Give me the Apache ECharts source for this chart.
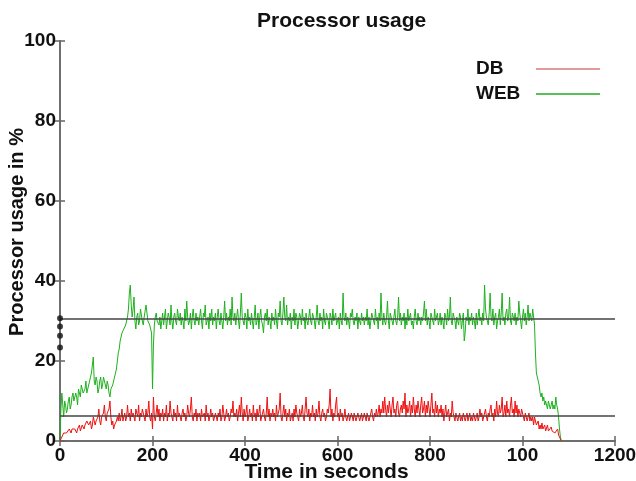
<!DOCTYPE html>
<html>
<head>
<meta charset="utf-8">
<script src="https://cdn.jsdelivr.net/npm/echarts@6/dist/echarts.min.js"></script>
<style>html,body{margin:0;padding:0;background:#fff}#c{width:636px;height:481px}</style>
</head>
<body>
<div id="c"></div>
<script>
// sampling step (seconds) of the recorded traces
const sampleStep = 2;
const xTickLabels = ['0', '200', '400', '600', '800', '100', '1200'];
const yTickLabels = ['0', '20', '40', '60', '80', '100'];

// WEB processor usage (%), one value per sample
const webValues = [
  0, 8, 12, 9, 6, 10, 9, 7, 8, 10, 11, 8, 9, 11, 12, 10, 10, 12, 11, 9,
  13, 12, 11, 14, 14, 12, 12, 13, 15, 12, 13, 14, 14, 16, 17, 19, 21, 15, 14, 16,
  15, 12, 13, 15, 16, 13, 14, 16, 15, 14, 13, 15, 14, 12, 11, 13, 13, 14, 15, 16,
  17, 18, 20, 22, 23, 25, 26, 27, 27, 28, 28, 29, 29, 31, 33, 37, 39, 34, 31, 33,
  36, 30, 28, 31, 32, 29, 30, 33, 33, 30, 29, 31, 31, 34, 34, 30, 30, 29, 28, 27,
  13, 24, 29, 31, 32, 30, 30, 29, 31, 28,
  30, 32, 29, 31, 33, 28, 30, 32, 31, 29, 34, 30, 28, 31, 32, 30, 29, 33, 31, 30,
  32, 29, 31, 30, 28, 33, 30, 35, 31, 29, 30, 32, 28, 31, 33, 30, 29, 32, 30, 31,
  29, 31, 33, 30, 28, 32, 31, 34, 29, 30, 31, 28, 32, 30, 33, 29, 31, 30, 32, 28,
  31, 33, 30, 29, 32, 30, 28, 31, 35, 30, 32, 29, 31, 30, 33, 29, 36, 31, 30, 32,
  29, 31, 33, 30, 28, 32, 37, 31, 30, 29, 32, 31, 28, 33, 30, 31, 29, 32, 30, 28,
  31, 34, 29, 30, 32, 28, 31, 33, 30, 29, 27, 31, 32, 30, 33, 29, 31, 30, 28, 32,
  30, 31, 29, 33, 30, 28, 32, 31, 35, 30, 29, 32, 36, 31, 30, 34, 29, 31, 30, 32,
  28, 31, 30, 33, 29, 32, 31, 28, 30, 32, 31, 29, 33, 30, 31, 28, 32, 30, 29, 31,
  33, 30, 29, 32, 31, 30, 28, 31, 34, 30, 29, 32, 30, 31, 28, 33, 30, 29, 32, 31,
  30, 28, 32, 31, 29, 33, 30, 31, 32, 29, 30, 31, 28, 32, 30, 29, 37, 31, 30, 32,
  29, 31, 30, 28, 32, 31, 33, 30, 29, 31, 30, 32, 28, 31, 30, 29, 32, 30, 31, 29,
  31, 30, 33, 29, 31, 28, 30, 32, 31, 30, 29, 33, 30, 31, 28, 32, 30, 37, 31, 29,
  32, 30, 29, 31, 35, 30, 28, 32, 31, 30, 29, 31, 33, 30, 29, 31, 36, 30, 32, 29,
  31, 30, 32, 28, 31, 29, 33, 30, 31, 32, 29, 30, 28, 31, 33, 30, 29, 32, 30, 31,
  29, 31, 30, 32, 35, 30, 33, 29, 31, 30, 28, 32, 31, 30, 29, 33, 30, 31, 32, 29,
  30, 32, 29, 31, 30, 28, 32, 31, 29, 33, 30, 31, 36, 30, 29, 32, 31, 30, 28, 31,
  30, 29, 32, 31, 28, 30, 32, 25, 27, 31, 30, 33, 29, 31, 30, 32, 29, 31, 30, 28,
  32, 29, 31, 33, 30, 31, 29, 32, 30, 39, 33, 31, 30, 29, 32, 37, 31, 30, 33, 29,
  31, 32, 28, 30, 31, 33, 29, 32, 37, 30, 31, 29, 32, 33, 30, 31, 36, 30, 29, 32,
  31, 30, 32, 29, 31, 30, 35, 32, 30, 28, 31, 33, 30, 32, 29, 31, 34, 30, 32, 31,
  30, 33, 31, 29,
  22, 17, 16, 15, 14, 12, 11, 12, 10, 11, 9, 10, 9, 8, 10, 9, 8, 9, 10, 8,
  9, 8, 11, 9, 8, 6, 3, 1, 0
];

// DB processor usage (%), one value per sample
const dbValues = [
  0, 0.5, 1, 1.5, 2, 1.5, 1.5, 2, 2, 2.5, 3, 2.5, 2, 3, 2.5, 3, 3, 3.5, 2, 3,
  3, 4, 2.5, 3, 4, 3.5, 3, 4, 3.5, 5, 5, 4, 4, 5, 3, 4, 6, 5, 4, 5,
  5, 6, 8, 5, 4, 6, 6, 7, 9, 6, 5, 7, 7, 8, 10, 6, 4, 5, 3, 4,
  4, 5, 6, 5, 7, 5, 6, 8, 5, 6, 7, 5, 6, 9, 6, 7, 5, 8, 6, 7,
  6, 5, 8, 7, 6, 9, 5, 7, 6, 8, 7, 6, 5, 8, 6, 7, 10, 6, 5, 7,
  3, 11, 6, 5, 7, 9, 6, 8, 5, 7,
  6, 8, 5, 7, 6, 9, 5, 7, 6, 10, 7, 6, 5, 8, 6, 7, 5, 9, 6, 7,
  6, 5, 7, 8, 6, 7, 5, 6, 9, 7, 6, 8, 11, 6, 5, 7, 6, 8, 5, 7,
  6, 7, 5, 8, 6, 6, 7, 5, 9, 6, 7, 5, 6, 8, 6, 7, 5, 6, 7, 6,
  5, 7, 6, 8, 5, 6, 9, 7, 5, 6, 8, 6, 7, 5, 6, 8, 7, 10, 6, 7,
  6, 8, 5, 7, 9, 6, 11, 7, 5, 8, 6, 7, 9, 5, 6, 8, 6, 7, 5, 9,
  6, 7, 5, 8, 6, 7, 9, 5, 6, 7, 8, 6, 5, 7, 11, 6, 8, 5, 7, 6,
  8, 6, 7, 5, 9, 6, 7, 8, 12, 6, 5, 7, 9, 6, 8, 5, 7, 6, 8, 5,
  6, 7, 5, 8, 6, 9, 7, 6, 5, 8, 6, 7, 9, 6, 5, 8, 11, 7, 6, 8,
  5, 7, 6, 9, 6, 7, 5, 8, 6, 7, 10, 6, 5, 7, 8, 6, 7, 5, 6, 8,
  7, 9, 13, 6, 8, 5, 7, 6, 9, 11, 6, 7, 5, 8, 6, 7, 5, 6, 8, 6,
  5, 6, 7, 5, 6, 7, 6, 5, 7, 6, 5, 6, 7, 6, 5, 6, 7, 5, 6, 7,
  6, 5, 7, 6, 5, 6, 7, 8, 6, 5, 7, 6, 8, 6, 7, 9, 6, 8, 7, 10,
  7, 11, 8, 6, 9, 7, 10, 8, 6, 9, 11, 7, 8, 6, 9, 10, 7, 6, 8, 9,
  7, 10, 8, 12, 6, 9, 7, 8, 10, 6, 9, 7, 11, 8, 6, 9, 7, 10, 8, 6,
  9, 11, 7, 8, 10, 6, 9, 7, 10, 8, 6, 9, 12, 7, 8, 6, 10, 7, 9, 6,
  8, 7, 9, 6, 8, 5, 7, 9, 6, 7, 8, 5, 7, 6, 10, 7, 6, 5, 7, 6,
  5, 6, 7, 5, 6, 5, 7, 6, 5, 6, 7, 5, 6, 7, 5, 6, 5, 7, 6, 5,
  6, 7, 5, 6, 8, 6, 7, 5, 6, 7, 8, 6, 5, 7, 6, 8, 9, 6, 7, 5,
  8, 6, 10, 7, 6, 9, 7, 8, 11, 6, 7, 9, 6, 10, 7, 8, 6, 9, 11, 7,
  8, 6, 10, 7, 9, 6, 8, 7, 6, 8, 7, 6, 5, 7, 6, 5, 6, 7, 5, 6,
  5, 6, 4, 6,
  5, 4, 3.5, 5, 3, 4, 3, 4.5, 3, 3.5, 4, 2.5, 3, 4, 2.5, 3, 2, 3.5, 2.5, 2,
  3, 2, 2.5, 2, 3, 1.5, 1, 0.5, 0
];

// mean levels drawn as horizontal reference lines (%)
const webMean = 30.6;
const dbMean = 6.3;
// marker dots at t = 0 (%)
const startDots = [30.7, 28.6, 26.3, 23.4];

const toPairs = vals => vals.map((v, i) => [i * sampleStep, v]);

const fontFam = 'Liberation Sans, Arial, sans-serif';
const boldFont = {fontFamily: fontFam, fontWeight: 'bold', color: '#111'};
const axisLineStyle = {color: '#666', width: 1.5};

const chart = echarts.init(document.getElementById('c'), null, {renderer: 'canvas'});
chart.setOption({
  animation: false,
  backgroundColor: '#fff',
  title: {
    text: 'Processor usage',
    left: 257, top: 11, padding: 0,
    textStyle: Object.assign({}, boldFont, {fontSize: 21})
  },
  legend: {
    orient: 'vertical',
    align: 'right',
    left: 471, top: 54,
    icon: 'rect',
    itemWidth: 64, itemHeight: 1.5, itemGap: 5,
    formatter: name => '{t|' + name + '}',
    textStyle: Object.assign({}, boldFont, {
      fontSize: 19, lineHeight: 20,
      rich: {t: {fontFamily: fontFam, fontWeight: 'bold', fontSize: 19, color: '#111', width: 55, align: 'left', lineHeight: 20}}
    }),
    data: [
      {name: 'DB', itemStyle: {color: '#d87a7a'}},
      {name: 'WEB', itemStyle: {color: '#22aa22'}}
    ]
  },
  grid: {left: 60, right: 21, top: 41, bottom: 40, outerBoundsMode: 'none', containLabel: false},
  xAxis: [{
    type: 'value', min: 0, max: 1200, interval: 200,
    name: 'Time in seconds', nameLocation: 'middle', nameGap: 21, nameMoveOverlap: false,
    nameTextStyle: Object.assign({}, boldFont, {fontSize: 21, padding: [0, 22, 0, 0]}),
    axisLine: {show: true, lineStyle: axisLineStyle},
    axisTick: {show: true, inside: true, length: 5, lineStyle: axisLineStyle},
    axisLabel: Object.assign({}, boldFont, {fontSize: 19, margin: 5,
      formatter: (v) => xTickLabels[Math.round(v / 200)]}),
    splitLine: {show: false}
  }, {
    type: 'value', min: 0, max: 1200, interval: 200, position: 'top',
    axisLine: {show: true, lineStyle: axisLineStyle},
    axisTick: {show: true, inside: true, length: 5, lineStyle: axisLineStyle},
    axisLabel: {show: false}, splitLine: {show: false}
  }],
  yAxis: [{
    type: 'value', min: 0, max: 100, interval: 20,
    name: 'Processor usage in %', nameLocation: 'middle', nameGap: 33, nameMoveOverlap: false,
    nameTextStyle: Object.assign({}, boldFont, {fontSize: 20, padding: [0, 0, 0, 18]}),
    axisLine: {show: true, lineStyle: axisLineStyle},
    axisTick: {show: true, inside: true, length: 5, lineStyle: axisLineStyle},
    axisLabel: Object.assign({}, boldFont, {fontSize: 19, margin: 4,
      formatter: (v) => yTickLabels[Math.round(v / 20)]}),
    splitLine: {show: false}
  }, {
    type: 'value', min: 0, max: 100, interval: 20, position: 'right',
    axisLine: {show: true, lineStyle: axisLineStyle},
    axisTick: {show: true, inside: true, length: 5, lineStyle: axisLineStyle},
    axisLabel: {show: false}, splitLine: {show: false}
  }],
  series: [{
    name: 'WEB', type: 'line', data: toPairs(webValues),
    symbol: 'none',
    lineStyle: {color: '#1fb01f', width: 1}, itemStyle: {color: '#1fb01f'}
  }, {
    name: 'DB', type: 'line', data: toPairs(dbValues),
    symbol: 'none',
    lineStyle: {color: '#ee1111', width: 1}, itemStyle: {color: '#ee1111'},
    markLine: {
      silent: true, symbol: 'none', label: {show: false},
      lineStyle: {color: '#444', width: 1.5, type: 'solid'},
      data: [{yAxis: webMean}, {yAxis: dbMean}]
    }
  }, {
    name: 'start', type: 'scatter', symbol: 'circle', symbolSize: 6,
    data: startDots.map(v => [0, v]),
    itemStyle: {color: '#111'}, z: 5
  }]
});
</script>
</body>
</html>
